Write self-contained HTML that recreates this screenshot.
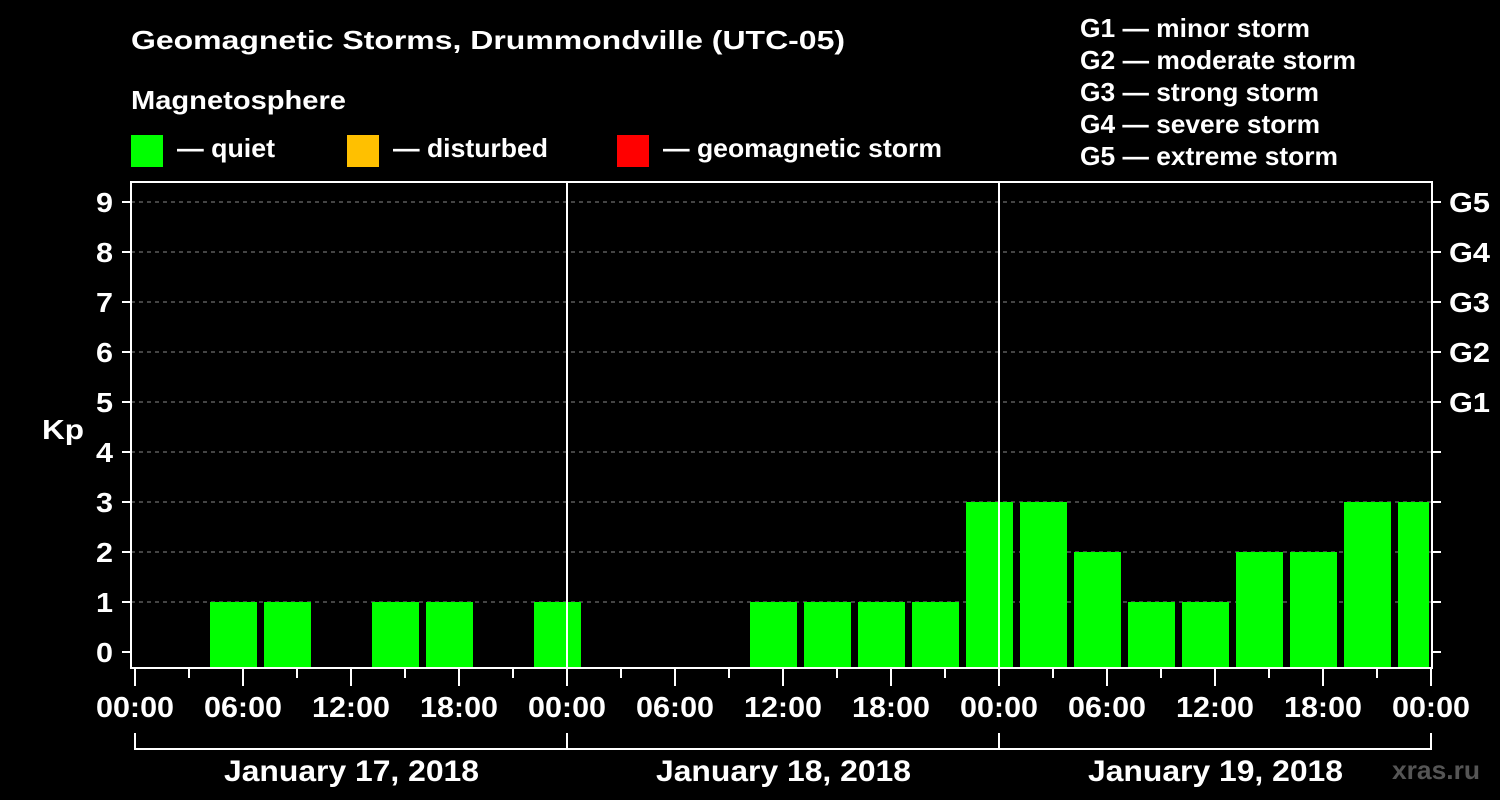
<!DOCTYPE html>
<html><head><meta charset="utf-8"><style>
html,body{margin:0;padding:0;background:#000;}
svg{display:block;font-family:"Liberation Sans",Arial,sans-serif;font-weight:bold;}
</style></head><body>
<svg id="chart" width="1500" height="800" viewBox="0 0 1500 800" xmlns="http://www.w3.org/2000/svg">
<rect width="1500" height="800" fill="#000"/>
<text x="131" y="49" fill="#fff" font-size="26" textLength="714" lengthAdjust="spacingAndGlyphs">Geomagnetic Storms, Drummondville (UTC-05)</text>
<text x="131" y="109" fill="#fff" font-size="26" textLength="215" lengthAdjust="spacingAndGlyphs">Magnetosphere</text>
<g><rect x="131" y="135" width="32" height="32" fill="#00ff00"/><text x="177" y="157" fill="#fff" font-size="26" textLength="98" lengthAdjust="spacingAndGlyphs">— quiet</text></g>
<g><rect x="347" y="135" width="32" height="32" fill="#ffc000"/><text x="393" y="157" fill="#fff" font-size="26" textLength="155" lengthAdjust="spacingAndGlyphs">— disturbed</text></g>
<g><rect x="617" y="135" width="32" height="32" fill="#ff0000"/><text x="663" y="157" fill="#fff" font-size="26" textLength="279" lengthAdjust="spacingAndGlyphs">— geomagnetic storm</text></g>
<g fill="#fff" font-size="26">
<text x="1080" y="37" textLength="230" lengthAdjust="spacingAndGlyphs">G1 — minor storm</text>
<text x="1080" y="69" textLength="276" lengthAdjust="spacingAndGlyphs">G2 — moderate storm</text>
<text x="1080" y="101" textLength="239" lengthAdjust="spacingAndGlyphs">G3 — strong storm</text>
<text x="1080" y="133" textLength="240" lengthAdjust="spacingAndGlyphs">G4 — severe storm</text>
<text x="1080" y="165" textLength="258" lengthAdjust="spacingAndGlyphs">G5 — extreme storm</text>
</g>
<text x="42" y="439" fill="#fff" font-size="28" textLength="42" lengthAdjust="spacingAndGlyphs">Kp</text>
<text x="1392" y="779" fill="#555" font-size="26" textLength="88" lengthAdjust="spacingAndGlyphs">xras.ru</text>
<g id="plot"></g>
</svg>
<script>
const kpValues = [0,1,1,0,1,1,0,1, 0,0,0,1,1,1,1,3, 3,2,1,1,2,2,3,3];
const timeLabels = ["00:00","06:00","12:00","18:00"];
const dayLabels = ["January 17, 2018","January 18, 2018","January 19, 2018"];
const yTicks = [0,1,2,3,4,5,6,7,8,9];
const gLabels = {5:"G1",6:"G2",7:"G3",8:"G4",9:"G5"};

const NS="http://www.w3.org/2000/svg";
const plot=document.getElementById('plot');
const L=131,R=1432,T=182,B=668,X0=135,SLOT=54;
const yScale=v=>652-v*50;
const xScale=i=>X0+i*SLOT;
function mk(tag,attrs,parent){const e=document.createElementNS(NS,tag);for(const k in attrs)e.setAttribute(k,attrs[k]);(parent||plot).appendChild(e);return e;}

yTicks.forEach(v=>{
  const y=yScale(v);
  if(v>0){const g=mk('line',{x1:L,x2:R,y1:y,y2:y,stroke:'#888','stroke-dasharray':'4,4','stroke-width':1});
  
  }
  const t1=mk('line',{x1:122,x2:L,y1:y,y2:y,stroke:'#fff','stroke-width':2});
  
  
  const t2=mk('line',{x1:R,x2:1441,y1:y,y2:y,stroke:'#fff','stroke-width':2});
  
  
  const tx=mk('text',{x:113,y:y+10,fill:'#fff','font-size':28,'text-anchor':'end',textLength:17,lengthAdjust:'spacingAndGlyphs'});
  tx.textContent=v;
  
  
  if(gLabels[v]){const g=mk('text',{x:1449,y:y+10,fill:'#fff','font-size':28,textLength:41,lengthAdjust:'spacingAndGlyphs'});g.textContent=gLabels[v];
  
  }
});

kpValues.forEach((v,i)=>{
  if(v<=0)return;
  const x=xScale(i)+21, xe=Math.min(x+47,R-3);
  const r=mk('rect',{x:x,y:yScale(v),width:xe-x,height:B-1-yScale(v),fill:'#00ff00'});
  
  
});

const frame=mk('rect',{x:L,y:T,width:R-L,height:B-T,fill:'none',stroke:'#fff','stroke-width':2});



for(let d=1;d<dayLabels.length;d++){
  const x=xScale(d*8);
  const l=mk('line',{x1:x,x2:x,y1:T,y2:B,stroke:'#fff','stroke-width':2});
  
  
}
for(let i=0;i<=kpValues.length;i++){
  const x=xScale(i), major=i%2===0;
  const t=mk('line',{x1:x,x2:x,y1:B,y2:major?686:678,stroke:'#fff','stroke-width':2});
  
  
  if(major){const tx=mk('text',{x:x-39,y:717,fill:'#fff','font-size':29,textLength:78,lengthAdjust:'spacingAndGlyphs'});
  tx.textContent=timeLabels[(i/2)%4];
  
  }
}
dayLabels.forEach((lab,d)=>{
  const x1=xScale(d*8), x2=xScale((d+1)*8);
  const b=mk('path',{d:`M${x1},733 V749 H${x2} V733`,fill:'none',stroke:'#fff','stroke-width':2});
  
  
  const tx=mk('text',{x:(x1+x2)/2-127,y:781,fill:'#fff','font-size':30,textLength:255,lengthAdjust:'spacingAndGlyphs'});
  tx.textContent=lab;
  
  
});
</script>
</body></html>
